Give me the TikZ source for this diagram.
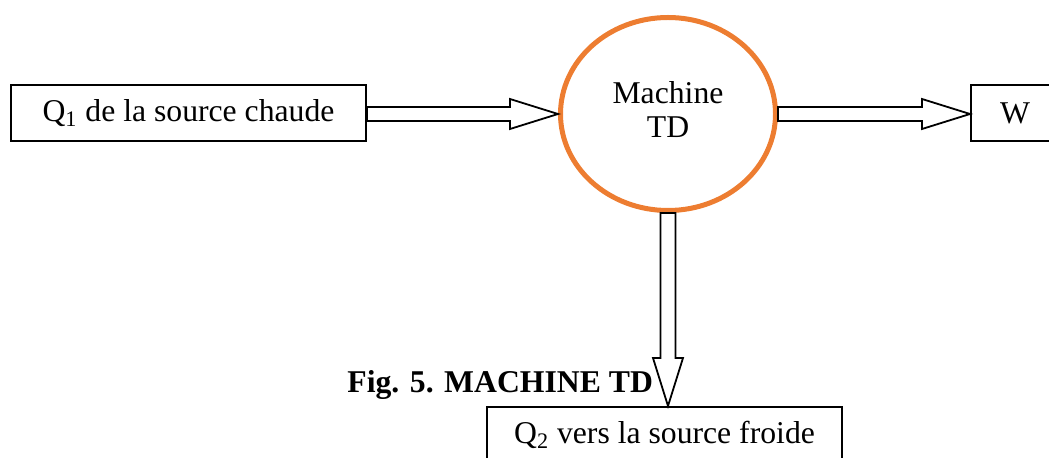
\documentclass[tikz,border=0pt]{standalone}
\usepackage{fontspec}
\setmainfont{Liberation Serif}
\usetikzlibrary{shapes.geometric,calc}
\definecolor{orangeTD}{HTML}{ED7D31}
\begin{document}
\begin{tikzpicture}[x=0.5pt,y=-0.5pt,
  every node/.style={font=\fontsize{15.85}{18}\selectfont},
  box/.style={draw,line width=1pt,minimum height=28pt,inner sep=0pt},
  barrow/.style={draw,line width=0.9pt,fill=white,line join=miter},
  machine/.style={ellipse,draw=orangeTD,line width=2.5pt,minimum width=107.5pt,
    minimum height=96.5pt,inner sep=0pt,align=center,font=\fontsize{15.85}{17}\selectfont}]
\useasboundingbox (0,0) rectangle (1049,458);
\clip (0,0) rectangle (1049,458);
\node[box,minimum width=177.5pt] (q1) at (188.5,113) {Q\textsubscript{1} de la source chaude};
\node[machine] (m) at (668,114) {Machine\\TD\\[-13pt]};
\node[box,minimum width=44pt] (w) at (1015,113) {W};
\node[box,minimum width=177.5pt] (q2) at (664.5,435) {Q\textsubscript{2} vers la source froide};
\node[font=\fontsize{15.85}{18}\selectfont\bfseries,anchor=base west,inner sep=0pt] (cap) at (347,393) {Fig. 5. MACHINE TD};
% arrow Q1 -> machine
\draw[barrow] let \p1=(q1.east), \p2=(m.west) in
  (\x1,\y2+3.5pt) -- (\x2-24pt,\y2+3.5pt) -- (\x2-24pt,\y2+7.5pt) -- (\x2,\y2)
  -- (\x2-24pt,\y2-7.5pt) -- (\x2-24pt,\y2-3.5pt) -- (\x1,\y2-3.5pt) -- cycle;
% arrow machine -> W
\draw[barrow] let \p1=(m.east), \p2=(w.west) in
  (\x1,\y1+3.5pt) -- (\x2-24pt,\y1+3.5pt) -- (\x2-24pt,\y1+7.5pt) -- (\x2,\y1)
  -- (\x2-24pt,\y1-7.5pt) -- (\x2-24pt,\y1-3.5pt) -- (\x1,\y1-3.5pt) -- cycle;
% arrow machine -> Q2
\draw[barrow] let \p1=(m.south), \p2=(q2.north) in
  (\x1+3.75pt,\y1) -- (\x1+3.75pt,\y2+24pt) -- (\x1+7.5pt,\y2+24pt) -- (\x1,\y2)
  -- (\x1-7.5pt,\y2+24pt) -- (\x1-3.75pt,\y2+24pt) -- (\x1-3.75pt,\y1) -- cycle;
\end{tikzpicture}
\end{document}
